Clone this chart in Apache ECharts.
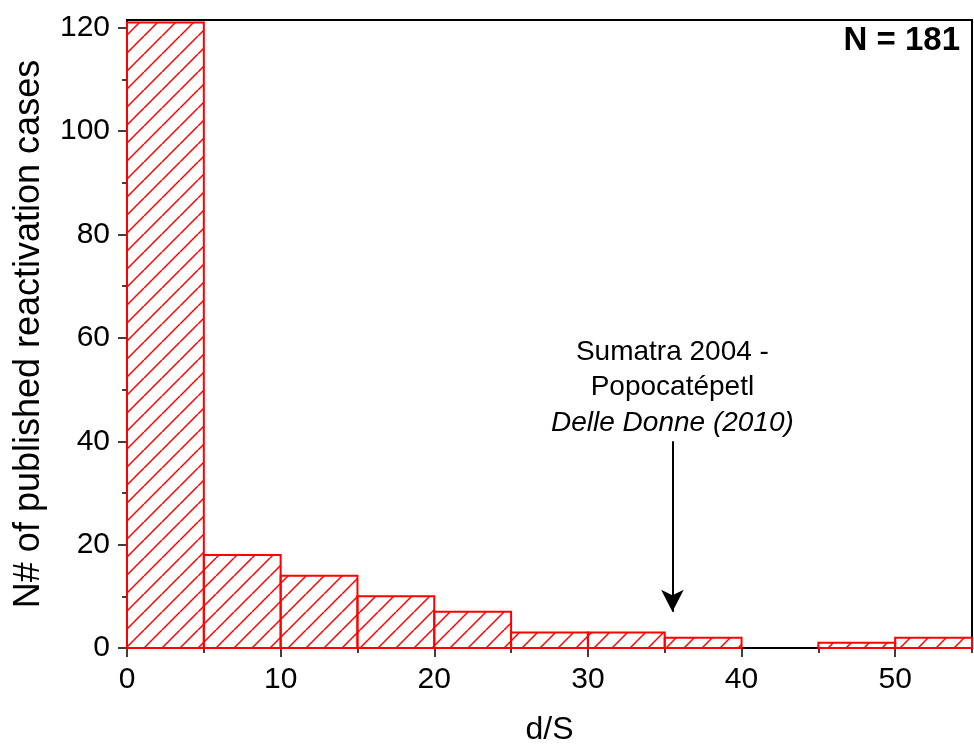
<!DOCTYPE html>
<html>
<head>
<meta charset="utf-8">
<script src="https://cdn.jsdelivr.net/npm/echarts@6/dist/echarts.min.js"></script>
<style>
  html, body { margin: 0; padding: 0; background: #fff; }
  #main { width: 974px; height: 748px; }
</style>
</head>
<body>
<div id="main"></div>
<script>
// histogram bins (d/S) and counts
var binStart = [0, 5, 10, 15, 20, 25, 30, 35, 40, 45, 50];
var binEnd = [5, 10, 15, 20, 25, 30, 35, 40, 45, 50, 55];
var counts = [121, 18, 14, 10, 7, 3, 3, 2, 0, 1, 2];

var xMajorTicks = [0, 10, 20, 30, 40, 50];
var xMinorTicks = [5, 15, 25, 35, 45, 55];
var yMajorTicks = [0, 20, 40, 60, 80, 100, 120];
var yMinorTicks = [10, 30, 50, 70, 90, 110];

// annotation arrow (x, from y, to y)
var arrowX = 35.5;
var arrowFrom = 40;
var arrowTo = 7;

var FONT = "'Liberation Sans', Arial, sans-serif";

// diagonal hatch pattern
function makeHatch() {
    var s = 18;
    var c = document.createElement('canvas');
    c.width = s; c.height = s;
    var ctx = c.getContext('2d');
    ctx.strokeStyle = '#ff0000';
    ctx.lineWidth = 1.5;
    for (var k = -1; k <= 1; k++) {
        ctx.beginPath();
        ctx.moveTo(k * s, s);
        ctx.lineTo(k * s + s, 0);
        ctx.stroke();
    }
    return c;
}
var hatch = { image: makeHatch(), repeat: 'repeat' };

var bins = binStart.map(function (b, i) {
    return [b, binEnd[i], counts[i]];
});

var chart = echarts.init(document.getElementById('main'));

var option = {
    animation: false,
    grid: {
        left: 127, right: 2, top: 20, bottom: 100,
        outerBoundsMode: 'none', containLabel: false,
        show: true, borderColor: '#000', borderWidth: 2
    },
    xAxis: [{
        type: 'value', min: 0, max: 55, interval: 5,
        name: 'd/S', nameLocation: 'middle', nameGap: 66,
        nameTextStyle: { fontFamily: FONT, fontSize: 32, color: '#000' },
        axisLine: { show: true, lineStyle: { color: '#000', width: 2 } },
        axisTick: { show: true, length: 9, lineStyle: { color: '#000', width: 1.5 }, customValues: xMajorTicks },
        axisLabel: { margin: 17, fontFamily: FONT, fontSize: 30, color: '#000', customValues: xMajorTicks },
        splitLine: { show: false }
    }, {
        type: 'value', min: 0, max: 55, position: 'bottom',
        axisLine: { show: false },
        axisTick: { show: true, length: 5, lineStyle: { color: '#000', width: 1.5 }, customValues: xMinorTicks },
        axisLabel: { show: false },
        splitLine: { show: false }
    }],
    yAxis: [{
        type: 'value', min: 0, max: 121.5, interval: 20,
        name: 'N# of published reactivation cases', nameLocation: 'middle', nameGap: 80,
        nameTextStyle: { fontFamily: FONT, fontSize: 36, color: '#000' },
        axisLine: { show: true, lineStyle: { color: '#000', width: 2 } },
        axisTick: { show: true, length: 9, lineStyle: { color: '#000', width: 1.5 }, customValues: yMajorTicks },
        axisLabel: { margin: 17, fontFamily: FONT, fontSize: 30, color: '#000', customValues: yMajorTicks },
        splitLine: { show: false }
    }, {
        type: 'value', min: 0, max: 121.5, position: 'left',
        axisLine: { show: false },
        axisTick: { show: true, length: 5, lineStyle: { color: '#000', width: 1.5 }, customValues: yMinorTicks },
        axisLabel: { show: false },
        splitLine: { show: false }
    }],
    series: [{
        type: 'custom',
        xAxisIndex: 0, yAxisIndex: 0,
        data: bins,
        renderItem: function (params, api) {
            var v = api.value(2);
            if (!v) return null;
            var p0 = api.coord([api.value(0), v]);
            var p1 = api.coord([api.value(1), 0]);
            return {
                type: 'rect',
                shape: { x: p0[0], y: p0[1], width: p1[0] - p0[0], height: p1[1] - p0[1] },
                style: { fill: hatch, stroke: '#ff0000', lineWidth: 2 }
            };
        }
    }, {
        type: 'line',
        xAxisIndex: 0, yAxisIndex: 0,
        data: [],
        markLine: {
            silent: true,
            symbol: ['none', 'arrow'],
            symbolSize: [17, 22],
            label: { show: false },
            lineStyle: { color: '#000', width: 2, type: 'solid' },
            data: [[{ coord: [arrowX, arrowFrom] }, { coord: [arrowX, arrowTo] }]]
        }
    }]
};

chart.setOption(option);

var pt = chart.convertToPixel({ gridIndex: 0 }, [arrowX, arrowFrom]);
chart.setOption({
    graphic: [{
        type: 'text',
        x: pt[0], y: pt[1] - 1,
        style: {
            text: '{a|Sumatra 2004 -}\n{a|Popocatépetl}\n{b|Delle Donne (2010)}',
            align: 'center', verticalAlign: 'bottom',
            rich: {
                a: { fontFamily: FONT, fontSize: 28, lineHeight: 35, fill: '#000' },
                b: { fontFamily: FONT, fontSize: 28, lineHeight: 35, fontStyle: 'italic', fill: '#000' }
            }
        }
    }, {
        type: 'text',
        x: 960, y: 24,
        style: {
            text: 'N = 181',
            align: 'right', verticalAlign: 'top',
            fontFamily: FONT, fontSize: 33, fontWeight: 'bold', fill: '#000'
        }
    }]
});
</script>
</body>
</html>
